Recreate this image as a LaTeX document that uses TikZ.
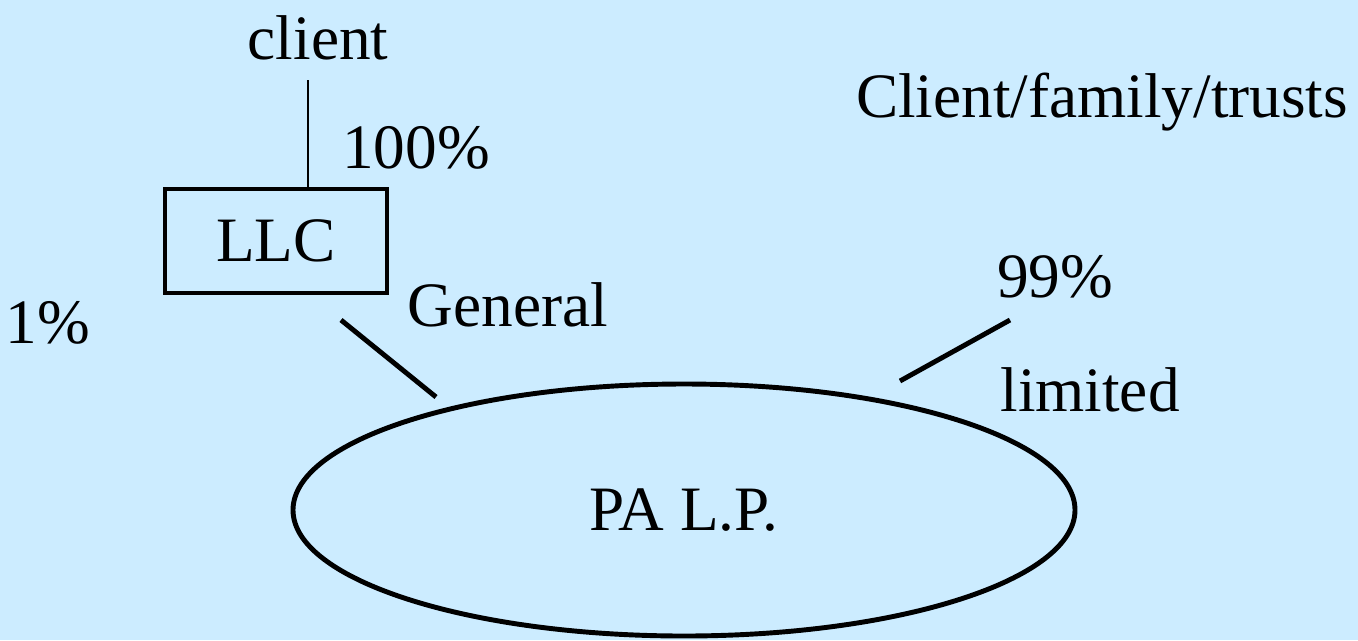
\documentclass[tikz,border=0pt]{standalone}
\usepackage{fontspec}
\setmainfont{Liberation Serif}
\usetikzlibrary{shapes.geometric}
\definecolor{bgblue}{HTML}{CCECFF}
\begin{document}
\begin{tikzpicture}[x=0.02cm,y=-0.02cm,
  lbl/.style={inner sep=0pt,font=\fontsize{36}{40}\selectfont},
  thick line/.style={line width=2.8pt},
  thin line/.style={line width=1.2pt}]
\fill[bgblue] (0,0) rectangle (1358,640);
\useasboundingbox (0,0) rectangle (1358,640);
\node[lbl] (client) at (318,38) {client};
\node[lbl] (pct100) at (416,148) {100\%};
\node[draw,thick line,lbl,minimum width=222*0.02cm,minimum height=104*0.02cm] (llc) at (276,241) {LLC};
\node[lbl] (pct1) at (48,323) {1\%};
\node[lbl] (general) at (508,305) {General};
\node[lbl] (cft) at (1102,102) {Client/family/trusts};
\node[lbl] (pct99) at (1055,277) {99\%};
\node[lbl] (limited) at (1090,390) {limited};
\node[draw,thick line,ellipse,lbl,minimum width=782*0.02cm,minimum height=252*0.02cm] (lp) at (684,510) {PA L.P.};
\coordinate (v1) at (308,80);
\coordinate (v2) at (308,188);
\draw[thin line] (v1) -- (v2);
\coordinate (g1) at (341,320);
\coordinate (g2) at (436,397);
\draw[thick line] (g1) -- (g2);
\coordinate (l1) at (1010,320);
\coordinate (l2) at (900,381);
\draw[thick line] (l1) -- (l2);
\end{tikzpicture}
\end{document}
